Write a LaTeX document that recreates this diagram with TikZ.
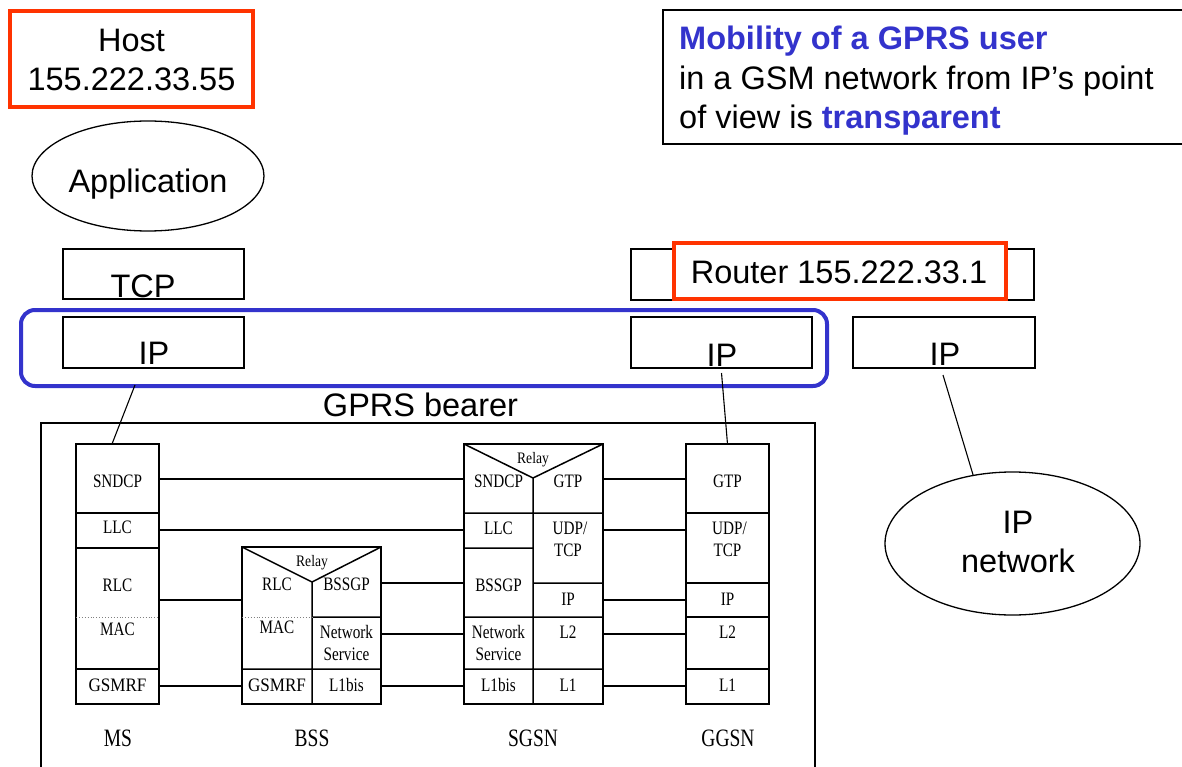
\documentclass[tikz,border=0pt]{standalone}
\usepackage{graphicx}
\usepackage{fontspec}
\setmainfont{Liberation Sans}
\newfontfamily\stackfont{Liberation Serif}
\usetikzlibrary{shapes.geometric}
\definecolor{hostred}{HTML}{FF3300}
\definecolor{gprsblue}{HTML}{3333CC}
% condensed serif lettering used inside the protocol stacks
\newcommand\cnd[1]{\scalebox{0.8}[1]{#1}}

\begin{document}
\begin{tikzpicture}[x=1pt,y=-1pt,
  box/.style={draw, line width=1.3pt, inner sep=0pt, outer sep=0pt},
  redbox/.style={draw=hostred, line width=4pt, fill=white, inner sep=0pt, outer sep=0pt},
  oval/.style={ellipse, draw, line width=1.3pt, inner sep=0pt, outer sep=0pt},
  txt/.style={font=\fontsize{32.5}{39}\selectfont, anchor=base, inner sep=0pt},
  stackbox/.style={draw, line width=1.5pt, inner sep=0pt, outer sep=0pt},
  inner/.style={line width=1.5pt},
  sep/.style={dotted, line width=0.9pt, gray},
  stk/.style={font=\stackfont\fontsize{19}{21}\selectfont, anchor=base, inner sep=0pt},
  relaytxt/.style={font=\stackfont\fontsize{16}{18}\selectfont, anchor=base, inner sep=0pt},
  lbl/.style={font=\stackfont\fontsize{25}{28}\selectfont, anchor=base, inner sep=0pt},
  link/.style={line width=1.1pt}]
\useasboundingbox (0,0) rectangle (1182,767);
\clip (0,0) rectangle (1182,767);

% ---------- host side ----------
\node[redbox, minimum width=243pt, minimum height=96pt] (host) at (131.5,59) {};
\node[txt] (hostname) at (131.5,52) {Host};
\node[txt] (hostaddr) at (131.5,91) {155.222.33.55};

\node[oval, minimum width=232pt, minimum height=110pt] (app) at (148,176) {};
\node[txt] (apptext) at (148,193) {Application};

\node[box, minimum width=181pt, minimum height=50pt] (tcp) at (153.5,274) {};
\node[txt] (tcptext) at (143,297) {TCP};

% GPRS bearer frame
\node[draw=gprsblue, line width=4pt, rounded corners=14pt, inner sep=0pt, outer sep=0pt,
      minimum width=806pt, minimum height=76pt] (bearer) at (424,348) {};
\node[box, minimum width=181pt, minimum height=51pt] (ipl) at (153.5,342.5) {};
\node[txt] (ipltext) at (154,364) {IP};
\node[txt] (bearertext) at (420.5,416) {GPRS bearer};

% ---------- router side ----------
\node[box, minimum width=403pt, minimum height=51pt] (rtr) at (832.5,274.5) {};
\node[redbox, minimum width=332pt, minimum height=56pt] (rtrtag) at (840,271) {};
\node[txt] (rtrtext) at (839,283) {Router 155.222.33.1};

\node[box, minimum width=181pt, minimum height=51pt] (ipm) at (721.5,342.5) {};
\node[txt] (ipmtext) at (722,366) {IP};
\node[box, minimum width=182pt, minimum height=51pt] (ipr) at (944,342.5) {};
\node[txt] (iprtext) at (945,365) {IP};

\node[oval, minimum width=255pt, minimum height=143pt] (ipnet) at (1012.5,543.5) {};
\node[txt] (ipnet1) at (1018,533) {IP};
\node[txt] (ipnet2) at (1018,572) {network};

% ---------- note ----------
\node[box, minimum width=527pt, minimum height=134pt] (note) at (926.5,77) {};
\node[txt, anchor=base west] (note1) at (679,50) {\textcolor{gprsblue}{\bfseries Mobility of a GPRS user}};
\node[txt, anchor=base west] (note2) at (679,90) {in a GSM network from IP’s point};
\node[txt, anchor=base west] (note3) at (679,129) {of view is \textcolor{gprsblue}{\bfseries transparent}};

% ---------- GPRS core ----------
\node[draw, line width=1.5pt, inner sep=0pt, outer sep=0pt,
      minimum width=774pt, minimum height=367pt] (core) at (428,606.5) {};

% MS stack
\node[stackbox, minimum width=83pt, minimum height=260pt] (ms) at (117.5,574) {};
\draw[inner] (76,513) -- (159,513) (76,548) -- (159,548) (76,669) -- (159,669);
\draw[sep] (76,617) -- (159,617);
\node[stk] (mssndcp) at (117.5,487) {\cnd{SNDCP}};
\node[stk] (msllc)   at (117.5,533) {\cnd{LLC}};
\node[stk] (msrlc)   at (117.5,591) {\cnd{RLC}};
\node[stk] (msmac)   at (117.5,635) {\cnd{MAC}};
\node[stk] (msrf)    at (117.5,691) {\scalebox{0.9}[1]{GSMRF}};
\node[lbl] (mslabel) at (118,746) {\scalebox{0.78}[1]{MS}};

% BSS stack
\node[stackbox, minimum width=139pt, minimum height=157pt] (bss) at (311.5,625.5) {};
\draw[inner] (242,547) -- (312,582) -- (381,547) (312,582) -- (312,704)
             (312,617) -- (381,617) (242,669) -- (381,669);
\draw[sep] (242,617) -- (312,617);
\node[relaytxt] (bssrelay) at (312,566) {\scalebox{0.85}[1]{Relay}};
\node[stk] (bssrlc)   at (277,590) {\cnd{RLC}};
\node[stk] (bssmac)   at (277,633) {\cnd{MAC}};
\node[stk] (bssrf)    at (277,691) {\scalebox{0.9}[1]{GSMRF}};
\node[stk] (bssbssgp) at (346.5,590) {\cnd{BSSGP}};
\node[stk] (bssns1)   at (346.5,638) {\cnd{Network}};
\node[stk] (bssns2)   at (346.5,660) {\cnd{Service}};
\node[stk] (bssl1)    at (346.5,691) {\cnd{L1bis}};
\node[lbl] (bsslabel) at (312,746) {\scalebox{0.78}[1]{BSS}};

% SGSN stack
\node[stackbox, minimum width=139pt, minimum height=260pt] (sgsn) at (533.5,574) {};
\draw[inner] (464,444) -- (533,478) -- (603,444) (533,478) -- (533,704)
             (464,513) -- (603,513) (464,548) -- (533,548) (533,583) -- (603,583)
             (464,617) -- (603,617) (464,669) -- (603,669);
\node[relaytxt] (sgsnrelay) at (533,463) {\scalebox{0.85}[1]{Relay}};
\node[stk] (sgsnsndcp) at (498.5,487) {\cnd{SNDCP}};
\node[stk] (sgsnllc)   at (498.5,534) {\cnd{LLC}};
\node[stk] (sgsnbssgp) at (498.5,591) {\cnd{BSSGP}};
\node[stk] (sgsnns1)   at (498.5,638) {\cnd{Network}};
\node[stk] (sgsnns2)   at (498.5,660) {\cnd{Service}};
\node[stk] (sgsnl1b)   at (498.5,691) {\cnd{L1bis}};
\node[stk] (sgsngtp)   at (568,487) {\cnd{GTP}};
\node[stk] (sgsnudp)   at (570,534) {\cnd{UDP/}};
\node[stk] (sgsntcp)   at (568,556) {\cnd{TCP}};
\node[stk] (sgsnip)    at (568,605) {\cnd{IP}};
\node[stk] (sgsnl2)    at (568,638) {\cnd{L2}};
\node[stk] (sgsnl1)    at (568,691) {\cnd{L1}};
\node[lbl] (sgsnlabel) at (533,746) {\scalebox{0.78}[1]{SGSN}};

% GGSN stack
\node[stackbox, minimum width=83pt, minimum height=260pt] (ggsn) at (727.5,574) {};
\draw[inner] (686,513) -- (769,513) (686,583) -- (769,583)
             (686,617) -- (769,617) (686,669) -- (769,669);
\node[stk] (ggsngtp) at (727.5,487) {\cnd{GTP}};
\node[stk] (ggsnudp) at (729.5,534) {\cnd{UDP/}};
\node[stk] (ggsntcp) at (727.5,556) {\cnd{TCP}};
\node[stk] (ggsnip)  at (727.5,605) {\cnd{IP}};
\node[stk] (ggsnl2)  at (727.5,638) {\cnd{L2}};
\node[stk] (ggsnl1)  at (727.5,691) {\cnd{L1}};
\node[lbl] (ggsnlabel) at (728,746) {\scalebox{0.78}[1]{GGSN}};

% peer links between the stacks
\draw[link] (ms.east |- 0,479) -- (sgsn.west |- 0,479);
\draw[link] (ms.east |- 0,530) -- (sgsn.west |- 0,530);
\draw[link] (ms.east |- 0,600) -- (bss.west |- 0,600);
\draw[link] (ms.east |- 0,686) -- (bss.west |- 0,686);
\draw[link] (bss.east |- 0,583) -- (sgsn.west |- 0,583);
\draw[link] (bss.east |- 0,634) -- (sgsn.west |- 0,634);
\draw[link] (bss.east |- 0,686) -- (sgsn.west |- 0,686);
\draw[link] (sgsn.east |- 0,479) -- (ggsn.west |- 0,479);
\draw[link] (sgsn.east |- 0,530) -- (ggsn.west |- 0,530);
\draw[link] (sgsn.east |- 0,600) -- (ggsn.west |- 0,600);
\draw[link] (sgsn.east |- 0,634) -- (ggsn.west |- 0,634);
\draw[link] (sgsn.east |- 0,686) -- (ggsn.west |- 0,686);

% IP layers down to the stacks and the IP network
\coordinate (bearerfoot) at (135,385);
\draw[link] (bearerfoot) -- (ms.north -| 112,0);
\draw[link] ([yshift=-5pt]ipm.south) -- (ggsn.north);
\draw[link] ([xshift=-1pt,yshift=-7pt]ipr.south) -- (ipnet.120);
\end{tikzpicture}
\end{document}
